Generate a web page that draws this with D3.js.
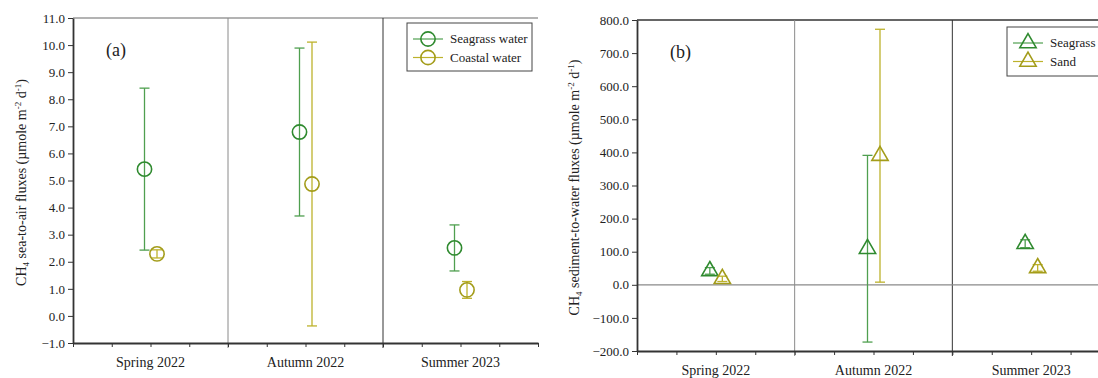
<!DOCTYPE html>
<html>
<head>
<meta charset="utf-8">
<script src="https://cdn.jsdelivr.net/npm/d3@7/dist/d3.min.js"></script>
<style>
    body { margin: 0; background: #fff; }
    svg, svg text { font-family: 'Liberation Serif', 'DejaVu Serif', serif !important; }
    text { fill: #222; }
    .axis path, .axis line { stroke: #333; }
</style>
</head>
<body>
<script>
    // data
    var seasons = ["Spring 2022", "Autumn 2022", "Summer 2023"];

    // (a) sea-to-air fluxes, mean and sd
    var waterSeagrass = [5.42, 6.79, 2.51];
    var waterSeagrassSd = [2.99, 3.10, 0.85];
    var waterCoastal = [2.29, 4.87, 0.96];
    var waterCoastalSd = [0.15, 5.24, 0.31];
    var ticksA = [-1, 0, 1, 2, 3, 4, 5, 6, 7, 8, 9, 10, 11];

    // (b) sediment-to-water fluxes
    var sedSeagrass = [42, 109, 124];
    var sedSeagrassSd = [10, 282, 12];
    var sedSand = [18, 390, 51];
    var sedSandSd = [8, 382, 10];
    var ticksB = [-200, -100, 0, 100, 200, 300, 400, 500, 600, 700, 800];

    var green = "#2f8a2f", greenBar = "#4f9f4f";
    var olive = "#a39c1a", oliveBar = "#bdb22c";
    var serif = "'Liberation Serif', 'DejaVu Serif', serif";

    var svg = d3.select("body").append("svg")
        .attr("width", 1098)
        .attr("height", 378)
        .attr("font-family", serif);

    function drawPanel(p) {
        var g = svg.append("g");
        var x = d3.scaleBand().domain(seasons).range([p.left, p.right]);
        var xq = d3.scaleLinear().domain([0, 3]).range([p.left, p.right]);
        var y = d3.scaleLinear().domain(p.domain).range([p.bottom, p.top]);

        // top frame line
        g.append("line")
            .attr("x1", p.left).attr("x2", p.right)
            .attr("y1", p.top).attr("y2", p.top)
            .attr("stroke", p.topColor).attr("stroke-width", 1.3);

        // season dividers
        g.append("line")
            .attr("x1", xq(1)).attr("x2", xq(1))
            .attr("y1", p.top).attr("y2", p.bottom + 5)
            .attr("stroke", "#8a8a8a").attr("stroke-width", 1);
        g.append("line")
            .attr("x1", xq(2)).attr("x2", xq(2))
            .attr("y1", p.top).attr("y2", p.bottom + 5)
            .attr("stroke", "#333").attr("stroke-width", 1);

        if (p.zeroLine) {
            g.append("line")
                .attr("x1", p.left).attr("x2", p.right)
                .attr("y1", y(0)).attr("y2", y(0))
                .attr("stroke", "#8a8a8a").attr("stroke-width", 1.2);
        }

        // y axis
        var ya = g.append("g").attr("class", "axis")
            .attr("transform", "translate(" + p.left + ",0)")
            .call(d3.axisLeft(y).tickValues(p.ticks).tickFormat(d3.format(".1f")).tickSize(5).tickSizeOuter(0));
        ya.attr("font-family", serif);
        ya.select(".domain").attr("stroke-width", 1.8);
        ya.selectAll("text").style("font-size", "13px").attr("fill", "#333");

        // bottom axis with quarter ticks
        var xa = g.append("g").attr("class", "axis")
            .attr("transform", "translate(0," + p.bottom + ")")
            .call(d3.axisBottom(xq).tickValues(d3.range(0, 3.01, 0.25)).tickFormat("").tickSize(4).tickSizeOuter(0));
        xa.select(".domain").attr("stroke-width", 1.8);

        g.append("g")
            .attr("transform", "translate(0," + p.bottom + ")")
            .call(d3.axisBottom(x).tickSize(0).tickPadding(14))
            .call(function (s) { s.select(".domain").remove(); })
            .attr("font-family", serif)
            .selectAll("text").style("font-size", "14px").attr("fill", "#222");

        // panel tag
        g.append("text")
            .attr("x", p.left + 33).attr("y", p.top + 38)
            .style("font-size", "18px")
            .text(p.tag);

        // y label
        var lab = g.append("text")
            .attr("transform", "translate(" + p.labelX + "," + ((p.top + p.bottom) / 2 + 2) + ") rotate(-90)")
            .attr("text-anchor", "middle")
            .style("font-size", "14px");
        lab.append("tspan").text("CH");
        lab.append("tspan").attr("dy", 3).style("font-size", "9px").text("4");
        lab.append("tspan").attr("dy", -3).text(p.label + " (µmole m");
        lab.append("tspan").attr("dy", -5).style("font-size", "9px").text("-2");
        lab.append("tspan").attr("dy", 5).text(" d");
        lab.append("tspan").attr("dy", -5).style("font-size", "9px").text("-1");
        lab.append("tspan").attr("dy", 5).text(")");

        // series
        p.series.forEach(function (s) {
            var pts = seasons.map(function (k, i) {
                return { cx: x(k) + x.bandwidth() / 2 + s.dx, m: s.mean[i], sd: s.sd[i] };
            });
            var sg = g.append("g");
            sg.selectAll(".bar").data(pts).enter().append("line")
                .attr("x1", function (d) { return d.cx; }).attr("x2", function (d) { return d.cx; })
                .attr("y1", function (d) { return y(d.m - d.sd); })
                .attr("y2", function (d) { return y(d.m + d.sd); })
                .attr("stroke", s.bar).attr("stroke-width", 1.3);
            [-1, 1].forEach(function (sign) {
                sg.selectAll(".cap").data(pts).enter().append("line")
                    .attr("x1", function (d) { return d.cx - 5; }).attr("x2", function (d) { return d.cx + 5; })
                    .attr("y1", function (d) { return y(d.m + sign * d.sd); })
                    .attr("y2", function (d) { return y(d.m + sign * d.sd); })
                    .attr("stroke", s.bar).attr("stroke-width", 1.3);
            });
            sg.selectAll(".mk").data(pts).enter().append("path")
                .attr("d", d3.symbol().type(p.symbol).size(p.symbolSize))
                .attr("transform", function (d) { return "translate(" + d.cx + "," + y(d.m) + ")"; })
                .attr("fill", "none")
                .attr("stroke", s.color).attr("stroke-width", 1.6);
        });

        // legend
        var L = p.legend;
        g.append("rect")
            .attr("x", L.x).attr("y", L.y).attr("width", L.w).attr("height", L.h)
            .attr("fill", "#fff").attr("stroke", "#444").attr("stroke-width", 1);
        p.series.forEach(function (s, i) {
            var ly = L.y + 16 + i * 18.5;
            g.append("line")
                .attr("x1", L.x + 6).attr("x2", L.x + 36)
                .attr("y1", ly).attr("y2", ly)
                .attr("stroke", s.bar).attr("stroke-width", 1.2);
            g.append("path")
                .attr("d", d3.symbol().type(p.symbol).size(p.symbolSize))
                .attr("transform", "translate(" + (L.x + 21) + "," + ly + ")")
                .attr("fill", "none").attr("stroke", s.color).attr("stroke-width", 1.6);
            g.append("text")
                .attr("x", L.x + 43).attr("y", ly + 4)
                .style("font-size", "13px")
                .text(s.name);
        });
    }

    drawPanel({
        left: 73, right: 538, top: 18, bottom: 343,
        domain: [-1, 11], ticks: ticksA, topColor: "#9a9a9a",
        tag: "(a)", label: " sea-to-air fluxes", labelX: 26,
        symbol: d3.symbolCircle, symbolSize: 160,
        legend: { x: 407, y: 23, w: 125, h: 48 },
        series: [
            { name: "Seagrass water", mean: waterSeagrass, sd: waterSeagrassSd, color: green, bar: greenBar, dx: -6 },
            { name: "Coastal water", mean: waterCoastal, sd: waterCoastalSd, color: olive, bar: oliveBar, dx: 6.5 }
        ]
    });

    drawPanel({
        left: 637, right: 1110, top: 20, bottom: 351,
        domain: [-200, 800], ticks: ticksB, topColor: "#333",
        tag: "(b)", label: " sediment-to-water fluxes", labelX: 579, zeroLine: true,
        symbol: d3.symbolTriangle, symbolSize: 115,
        legend: { x: 1007, y: 27, w: 110, h: 49 },
        series: [
            { name: "Seagrass", mean: sedSeagrass, sd: sedSeagrassSd, color: green, bar: greenBar, dx: -6 },
            { name: "Sand", mean: sedSand, sd: sedSandSd, color: olive, bar: oliveBar, dx: 6.5 }
        ]
    });
</script>
</body>
</html>
